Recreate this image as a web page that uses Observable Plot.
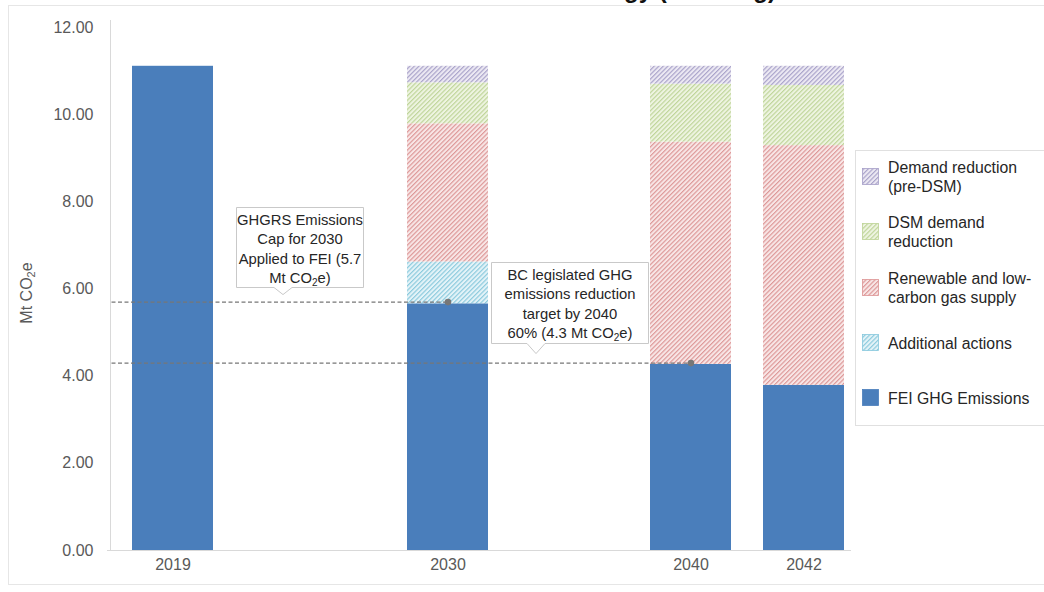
<!DOCTYPE html>
<html>
<head>
<meta charset="utf-8">
<script src="https://cdn.jsdelivr.net/npm/d3@7"></script>
<script src="https://cdn.jsdelivr.net/npm/@observablehq/plot@0.6"></script>
<style>
  body { margin: 0; background: #fff; font-family: "Liberation Sans", Arial, sans-serif; }
  #chart { position: relative; width: 1044px; height: 592px; overflow: hidden; }
</style>
</head>
<body>
<div id="chart"></div>
<script>
// Years shown on the horizontal axis
const years = [2019, 2030, 2040, 2042];

// Stack order, bottom to top
const series = [
  "FEI GHG Emissions",
  "Additional actions",
  "Renewable and low-carbon gas supply",
  "DSM demand reduction",
  "Demand reduction (pre-DSM)"
];

// Values in Mt CO2e, one per year
const feiEmissions      = [11.11, 5.66, 4.27, 3.79];
const additionalActions = [0,     0.96, 0,    0   ];
const renewableGas      = [0,     3.17, 5.10, 5.50];
const dsmReduction      = [0,     0.94, 1.33, 1.38];
const demandReduction   = [0,     0.38, 0.41, 0.44];

// Reference levels
const ghgrsCap2030 = 5.7;
const bcTarget2040 = 4.3;

const yTicks = [0, 2, 4, 6, 8, 10, 12];

// Legend entries (top to bottom), wrapped as drawn
const legendItems = [
  {key: "demand", lines: ["Demand reduction", "(pre-DSM)"]},
  {key: "dsm", lines: ["DSM demand", "reduction"]},
  {key: "renew", lines: ["Renewable and low-", "carbon gas supply"]},
  {key: "additional", lines: ["Additional actions"]},
  {key: "fei", lines: ["FEI GHG Emissions"]}
];

// Series -> style key
const seriesKey = {
  "FEI GHG Emissions": "fei",
  "Additional actions": "additional",
  "Renewable and low-carbon gas supply": "renew",
  "DSM demand reduction": "dsm",
  "Demand reduction (pre-DSM)": "demand"
};

// Hatch styles: background tint + line colour
const hatch = {
  additional: {bg: "#e4f3f8", line: "#86c8dc"},
  renew:      {bg: "#f8e6e6", line: "#dc9393"},
  dsm:        {bg: "#eef4e1", line: "#bcd395"},
  demand:     {bg: "#ece9f3", line: "#a69fc8"}
};
const fillFor = k => k === "fei" ? "#4a7ebb" : `url(#hatch-${k})`;

// Build stacked rows
const valuesBySeries = [feiEmissions, additionalActions, renewableGas, dsmReduction, demandReduction];
const rows = [];
years.forEach((year, i) => {
  let base = 0;
  series.forEach((s, j) => {
    const v = valuesBySeries[j][i];
    if (v > 0) {
      rows.push({year, series: s, y1: base, y2: base + v, fill: fillFor(seriesKey[s])});
      base += v;
    }
  });
});

const refLines = [
  {year: 2030, value: ghgrsCap2030},
  {year: 2040, value: bcTarget2040}
];

const font = '"Liberation Sans", Arial, sans-serif';

const plot = Plot.plot({
  width: 1044,
  height: 592,
  marginTop: 27,
  marginBottom: 42,
  marginLeft: 110,
  marginRight: 194,
  style: {fontFamily: font, background: "white", overflow: "visible"},
  x: {type: "linear", domain: years, range: [172.5, 447.5, 690.5, 803.5]},
  y: {domain: [0, 12]},
  color: {type: "identity"},
  marks: [
    Plot.rect(rows, {
      x1: "year", x2: "year", y1: "y1", y2: "y2",
      fill: "fill",
      insetLeft: -40.5, insetRight: -40.5
    }),
    // Dashed reference levels run from the value axis to the year they refer to
    Plot.ruleY(refLines, {
      y: "value", x2: "year", clip: "frame",
      stroke: "#777777", strokeWidth: 1.2, strokeDasharray: "4,2.5"
    }),
    Plot.dot(refLines, {x: "year", y: "value", r: 3.3, fill: "#777777"}),
    Plot.axisY({
      ticks: yTicks, tickFormat: d => d.toFixed(2), tickSize: 0, tickPadding: 17,
      fontSize: 16, fill: "#595959", label: null
    }),
    Plot.axisX({
      ticks: years, tickFormat: d => String(d), tickSize: 0, tickPadding: 8,
      fontSize: 16, fill: "#595959", label: null
    })
  ]
});

document.getElementById("chart").appendChild(plot);

const svg = d3.select(plot);
const ys = plot.scale("y");

// Hatch patterns
const defs = svg.insert("defs", ":first-child");
Object.entries(hatch).forEach(([k, c]) => {
  const p = defs.append("pattern")
    .attr("id", `hatch-${k}`)
    .attr("patternUnits", "userSpaceOnUse")
    .attr("width", 3.2).attr("height", 3.2)
    .attr("patternTransform", "rotate(45)");
  p.append("rect").attr("width", 3.2).attr("height", 3.2).attr("fill", c.bg);
  p.append("line").attr("x1", 0.6).attr("y1", 0).attr("x2", 0.6).attr("y2", 3.2)
    .attr("stroke", c.line).attr("stroke-width", 1.1);
});

// Background chrome (frame and axis lines) under the marks
const back = svg.insert("g", "defs + *");
back.append("rect")
  .attr("x", 8.5).attr("y", 5.5).attr("width", 1100).attr("height", 579)
  .attr("fill", "none").attr("stroke", "#e6e6e6");
back.append("line")
  .attr("x1", 110.5).attr("x2", 110.5).attr("y1", 20).attr("y2", ys.apply(0))
  .attr("stroke", "#d9d9d9");
back.append("line")
  .attr("x1", 107).attr("x2", 851).attr("y1", ys.apply(0) + 0.5).attr("y2", ys.apply(0) + 0.5)
  .attr("stroke", "#d9d9d9");

// Title (runs above the visible area)
svg.append("text")
  .attr("x", 776).attr("y", -2)
  .attr("text-anchor", "end")
  .attr("font-family", font).attr("font-weight", "bold").attr("font-size", 24)
  .attr("fill", "#111")
  .text("Diversified Energy (Planning)");

// Y axis title with subscript
const yl = svg.append("text")
  .attr("transform", `translate(32,293) rotate(-90)`)
  .attr("text-anchor", "middle")
  .attr("font-family", font).attr("font-size", 16).attr("fill", "#595959");
yl.append("tspan").text("Mt CO");
yl.append("tspan").attr("dy", 3).attr("font-size", 11).text("2");
yl.append("tspan").attr("dy", -3).text("e");

// Callout boxes; a part given as {sub: "..."} is drawn as a subscript
function callout(box, lines) {
  const {L, R, T, B, pc, tip} = box;
  const g = svg.append("g");
  g.append("path")
    .attr("d", `M${L},${T}H${R}V${B}H${pc + 9}L${pc},${tip}L${pc - 9},${B}H${L}Z`)
    .attr("fill", "white").attr("stroke", "#c9c9c9").attr("stroke-width", 1);
  const cx = (L + R) / 2;
  lines.forEach((ln, i) => {
    const t = g.append("text")
      .attr("x", cx).attr("y", T + 17 + i * 19.5)
      .attr("text-anchor", "middle")
      .attr("font-family", font).attr("font-size", 14.8).attr("fill", "#262626");
    let shifted = false;
    ln.forEach(part => {
      if (typeof part === "object") {
        t.append("tspan").attr("dy", 3).attr("font-size", 10).text(part.sub);
        shifted = true;
      } else {
        const sp = t.append("tspan").text(part);
        if (shifted) { sp.attr("dy", -3); shifted = false; }
      }
    });
  });
}

const capY = ys.apply(ghgrsCap2030);
const targetY = ys.apply(bcTarget2040);

callout({L: 236.5, R: 363.5, T: 207.5, B: 287.5, pc: 283, tip: capY - 7}, [
  ["GHGRS Emissions"],
  ["Cap for 2030"],
  ["Applied to FEI (5.7"],
  ["Mt CO", {sub: "2"}, "e)"]
]);
callout({L: 491.5, R: 648.5, T: 262.5, B: 343.5, pc: 536, tip: targetY - 9}, [
  ["BC legislated GHG"],
  ["emissions reduction"],
  ["target by 2040"],
  ["60% (4.3 Mt CO", {sub: "2"}, "e)"]
]);

// Legend
const lg = svg.append("g");
lg.append("rect")
  .attr("x", 855.5).attr("y", 150.5).attr("width", 220).attr("height", 275)
  .attr("fill", "white").attr("stroke", "#e0e0e0");
const rowCenters = [177, 232, 288, 343, 398];
legendItems.forEach((item, i) => {
  const cy = rowCenters[i];
  const stroke = item.key === "fei" ? "#4a7ebb" : hatch[item.key].line;
  lg.append("rect")
    .attr("x", 862.5).attr("y", cy - 8.5).attr("width", 16).attr("height", 16)
    .attr("fill", fillFor(item.key)).attr("stroke", stroke).attr("stroke-width", 0.8);
  const n = item.lines.length;
  item.lines.forEach((ln, j) => {
    lg.append("text")
      .attr("x", 888)
      .attr("y", cy + 5.5 + (j - (n - 1) / 2) * 19)
      .attr("text-anchor", "start")
      .attr("font-family", font).attr("font-size", 15.8).attr("fill", "#262626")
      .text(ln);
  });
});
</script>
</body>
</html>
